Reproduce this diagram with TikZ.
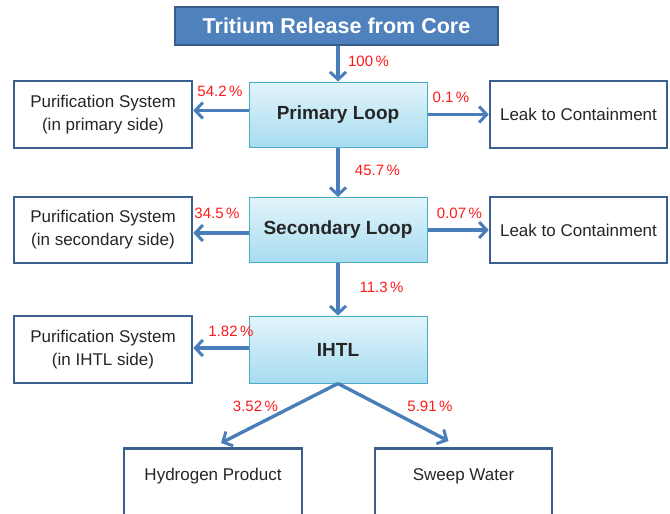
\documentclass[tikz,border=0pt]{standalone}
\usepackage{fontspec}
\setmainfont{Liberation Sans}
\newfontfamily\boxfont[WordSpace=0.55]{Liberation Sans}
\newfontfamily\pctfont{Liberation Sans}
\usetikzlibrary{arrows.meta,shadings}
\definecolor{titlefill}{HTML}{4F81BD}
\definecolor{titleborder}{HTML}{385D8A}
\definecolor{boxborder}{HTML}{3B5F8E}
\definecolor{looptop}{HTML}{E2F4FB}
\definecolor{loopbot}{HTML}{A7DCF0}
\definecolor{loopborder}{HTML}{4BACC6}
\definecolor{arrowblue}{HTML}{4A7EBB}
\definecolor{loopText}{HTML}{262626}
\definecolor{pctred}{HTML}{FF1A1A}
\tikzset{
  titlebox/.style={draw=titleborder, line width=2pt, fill=titlefill, text=white,
    font=\fontsize{21.5}{24}\selectfont\bfseries, minimum width=323pt, minimum height=38pt, inner sep=0pt},
  loopbox/.style={draw=loopborder, line width=1pt, top color=looptop, bottom color=loopbot,
    text=loopText, font=\fontsize{19}{22}\selectfont\bfseries,
    minimum width=178pt, minimum height=65pt, inner sep=0pt},
  sidebox/.style={draw=boxborder, line width=2.6pt, fill=white, text=loopText,
    font=\boxfont\fontsize{17}{23}\selectfont, align=center,
    minimum width=178pt, minimum height=66pt, inner sep=0pt},
  btext/.style={text=loopText, font=\boxfont\fontsize{17}{23}\selectfont, inner sep=0pt},
  pct/.style={text=pctred, font=\pctfont\fontsize{15}{17}\selectfont, inner sep=0pt},
  arr/.style={draw=arrowblue, line width=3.4pt, -{Straight Barb[length=7.5pt,width=16pt,line width=3pt]}},
}
\begin{document}
\begin{tikzpicture}[x=1pt,y=-1pt]
\useasboundingbox (0,0) rectangle (670,514);
\clip (0,0) rectangle (670,514);
% nodes
\node[titlebox] (core) at (336.5,26) {Tritium Release from Core};
\node[loopbox] (prim) at (338,114.5) {Primary Loop};
\node[loopbox] (sec) at (338,230) {Secondary Loop};
\node[loopbox, minimum height=67pt] (ihtl) at (338,349.5) {IHTL};
\node[sidebox, minimum height=67pt] (pur1) at (103,114.5) {Purification System\\(in primary side)};
\node[sidebox] (pur2) at (103,230) {Purification System\\(in secondary side)};
\node[sidebox, minimum height=67pt] (pur3) at (103,349.5) {Purification System\\(in IHTL side)};
\node[sidebox, minimum width=177pt, minimum height=67pt] (leak1) at (578.5,114.5) {Leak to Containment};
\node[sidebox, minimum width=177pt] (leak2) at (578.5,230) {Leak to Containment};
\node[sidebox, anchor=north, minimum height=100pt] (hyd) at (213,447) {};
\node[btext] (hydt) at (213,476) {Hydrogen Product};
\node[sidebox, anchor=north, minimum width=177pt, minimum height=100pt] (sw) at (463.5,447) {};
\node[btext] (swt) at (463.5,476) {Sweep Water};
% arrow end coordinates
\coordinate (hydtip) at ([xshift=8pt,yshift=4pt]hyd.north);
\coordinate (swtip) at ([xshift=-15pt,yshift=6pt]sw.north);
% connectors
\draw[arr] (core.south -| prim.north) -- (prim.north);
\draw[arr] (prim.south) -- (sec.north);
\draw[arr] (sec.south) -- (ihtl.north);
\draw[arr] ([yshift=4pt]prim.west) -- ([yshift=4pt]pur1.east);
\draw[arr] (prim.east) -- (leak1.west);
\draw[arr] ([yshift=-3pt]sec.west) -- ([yshift=-3pt]pur2.east);
\draw[arr] (sec.east) -- (leak2.west);
\draw[arr] ([yshift=1.5pt]ihtl.west) -- ([yshift=1.5pt]pur3.east);
\draw[arr] (ihtl.south) -- (hydtip);
\draw[arr] (ihtl.south) -- (swtip);
% labels
\node[pct] (l100) at (368.5,61) {100\,\%};
\node[pct] (l542) at (220,91) {54.2\,\%};
\node[pct] (l01) at (451,97) {0.1\,\%};
\node[pct] (l457) at (377.5,170) {45.7\,\%};
\node[pct] (l345) at (217,213) {34.5\,\%};
\node[pct] (l007) at (459.5,213) {0.07\,\%};
\node[pct] (l113) at (381.5,287) {11.3\,\%};
\node[pct] (l182) at (231,331) {1.82\,\%};
\node[pct] (l352) at (255.5,406) {3.52\,\%};
\node[pct] (l591) at (430,406) {5.91\,\%};
\end{tikzpicture}
\end{document}
